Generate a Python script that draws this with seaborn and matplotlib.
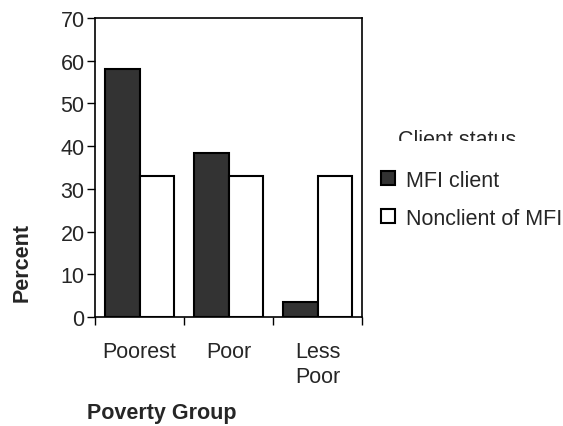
import matplotlib
matplotlib.use("Agg")
import matplotlib.pyplot as plt
from matplotlib.transforms import Bbox
from matplotlib.patches import Patch
import seaborn as sns
import pandas as pd

# --- data ---
grupos = ["Poorest", "Poor", "Less\nPoor"]
status = ["MFI client", "Nonclient of MFI"]
mfi_client = [58, 38.5, 3.5]
nonclient = [33, 33, 33]
y_ticks = [0, 10, 20, 30, 40, 50, 60, 70]

df = pd.DataFrame({
    "grupo": grupos * 2,
    "status": [status[0]] * 3 + [status[1]] * 3,
    "percent": mfi_client + nonclient,
})

sns.set_style("white")
plt.rcParams["font.family"] = ["Liberation Sans", "DejaVu Sans"]
FS = 15.5

fig = plt.figure(figsize=(5.63, 4.27), dpi=100)
ax = fig.add_axes([95 / 563, 1 - 318 / 427, (362 - 95) / 563, (318 - 19) / 427])

cores = {status[0]: "#333333", status[1]: "white"}
sns.barplot(data=df, x="grupo", y="percent", hue="status", order=grupos,
            hue_order=status, palette=cores, width=0.77, edgecolor="black",
            linewidth=1.5, ax=ax, legend=False)

ax.set_xlim(-0.5, 2.5)
ax.set_ylim(0, 70)
ax.set_yticks(y_ticks)
ax.tick_params(axis="y", direction="out", length=6, width=1, pad=1.5,
               labelsize=FS, left=True, color="black")

# ticks at group boundaries, labels centred (no tick)
ax.set_xticks([-0.5, 0.5, 1.5, 2.5])
ax.set_xticklabels([])
ax.tick_params(axis="x", which="major", direction="out", length=6, width=1,
               bottom=True, color="black")
ax.set_xticks([0, 1, 2], minor=True)
ax.set_xticklabels(grupos, minor=True, fontsize=FS, linespacing=1.3)
ax.tick_params(axis="x", which="minor", length=0, pad=17)

for s in ax.spines.values():
    s.set_visible(True)
    s.set_color("black")
    s.set_linewidth(1.2)

ax.set_xlabel("")
ax.set_ylabel("")
fig.text(162 / 563, 1 - 414 / 427, "Poverty Group", fontsize=FS,
         fontweight="bold", ha="center", va="center")
fig.text(22 / 563, 1 - 262 / 427, "Percent", fontsize=FS, fontweight="bold",
         rotation=90, ha="center", va="center")

# legend
handles = [Patch(facecolor=cores[s], edgecolor="black", linewidth=1.5) for s in status]
fig.legend(handles, status, loc="upper left", bbox_to_anchor=(372 / 563, 1 - 162 / 427),
           frameon=False, fontsize=FS, handlelength=0.65, handleheight=0.65,
           handletextpad=0.55, labelspacing=0.8, borderaxespad=0)

# legend title, cut off at the bottom like in the original
titulo = fig.text(398 / 563, 1 - 146 / 427, "Client status", fontsize=FS,
                  ha="left", va="baseline")
titulo.set_clip_on(True)
titulo.set_clip_box(Bbox.from_extents(380, 427 - 142, 563, 427 - 115))

fig.savefig("out.png", dpi=100)
